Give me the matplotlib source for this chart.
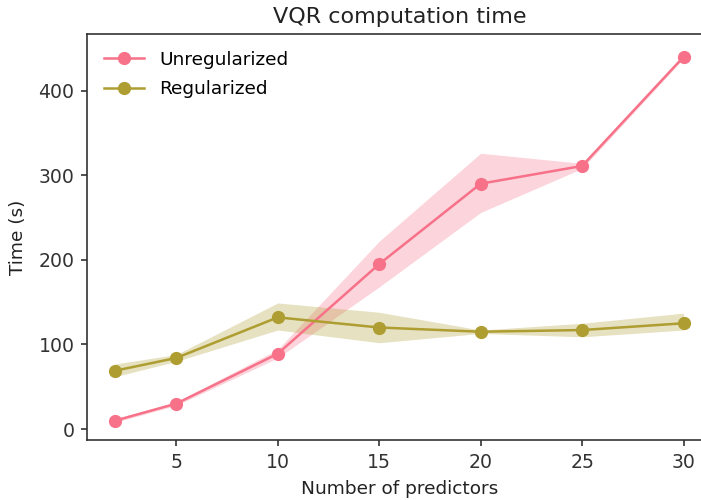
import matplotlib
matplotlib.use("Agg")
import matplotlib.pyplot as plt

x = [2, 5, 10, 15, 20, 25, 30]
unreg = [10, 30, 89, 195, 290, 311, 440]
unreg_lo = [8, 28, 84, 168, 256, 308, 438]
unreg_hi = [12, 32, 94, 222, 326, 314, 442]
reg = [69, 84, 132, 120, 115, 117, 125]
reg_lo = [62, 80, 117, 102, 113, 109, 117]
reg_hi = [77, 88, 149, 138, 117, 125, 137]

c_un = "#f77189"
c_re = "#ae9d31"

fig = plt.figure(figsize=(7.01, 5.0), dpi=100)
ax = fig.add_axes([87/701, 60/500, (712-87)/701, (440-34)/500])

ax.fill_between(x, unreg_lo, unreg_hi, color=c_un, alpha=0.3, linewidth=0)
ax.fill_between(x, reg_lo, reg_hi, color=c_re, alpha=0.3, linewidth=0)
ax.plot(x, unreg, "-o", color=c_un, lw=1.8, ms=8.5, label="Unregularized")
ax.plot(x, reg, "-o", color=c_re, lw=1.8, ms=8.5, label="Regularized")

ax.set_xlim(0.6, 31.4)
ax.set_ylim(-13, 467)
ax.set_xticks([5, 10, 15, 20, 25, 30])
ax.set_yticks([0, 100, 200, 300, 400])
ax.tick_params(colors="#333333", labelsize=13.6, length=4.5, width=1.2, pad=4.5)
for s in ax.spines.values():
    s.set_color("#333333")
    s.set_linewidth(1.2)
ax.set_title("VQR computation time", fontsize=16, color="#222222", pad=8)
ax.set_xlabel("Number of predictors", fontsize=13.3, color="#222222", labelpad=6)
ax.set_ylabel("Time (s)", fontsize=13.3, color="#222222", labelpad=8)
ax.legend(loc="upper left", frameon=False, fontsize=13.3, handlelength=2.2,
          labelspacing=0.62, borderaxespad=0.5)

fig.savefig("out.png", dpi=100)
